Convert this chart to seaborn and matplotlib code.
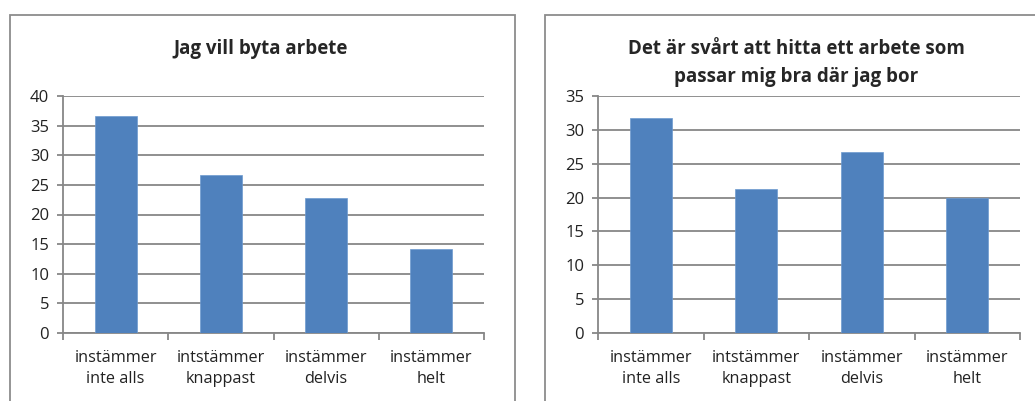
import numpy as np
import pandas as pd
import matplotlib
matplotlib.use('Agg')
import matplotlib.pyplot as plt
import seaborn as sns
from matplotlib.patches import Rectangle

# data
categories = ['instämmer\ninte alls', 'intstämmer\nknappast', 'instämmer\ndelvis', 'instämmer\nhelt']
byta_arbete = [36.6, 26.6, 22.8, 14.1]
svart_hitta = [31.8, 21.3, 26.8, 20.0]
titles = ['Jag vill byta arbete',
          'Det är svårt att hitta ett arbete som\npassar mig bra där jag bor']
ymax = [40, 35]

sns.set_style('white')
plt.rcParams['font.family'] = ['Open Sans', 'DejaVu Sans']

bar_color = '#4F81BD'
grid_color = '#878787'

fig = plt.figure(figsize=(10.35, 4.01), dpi=100)

# outer chart frames (bottom is cut off in the reference)
fig.add_artist(Rectangle((9.5 / 1035, -0.2), (515 - 9.5) / 1035, 1.2 - 14.7 / 401,
                         transform=fig.transFigure, fill=False, edgecolor='#8c8c8c', lw=1.3))
fig.add_artist(Rectangle((544.5 / 1035, -0.2), 0.6, 1.2 - 14.7 / 401,
                         transform=fig.transFigure, fill=False, edgecolor='#8c8c8c', lw=1.3))

ax_pos = [[63 / 1035, 68 / 401, 421 / 1035, 237 / 401],
          [598 / 1035, 68 / 401, 422 / 1035, 237 / 401]]
title_x = [261, 796]
title_y = [49, 63]

for i, vals in enumerate([byta_arbete, svart_hitta]):
    ax = fig.add_axes(ax_pos[i])
    df = pd.DataFrame({'kat': categories, 'varde': vals})
    sns.barplot(data=df, x='kat', y='varde', ax=ax, color=bar_color,
                width=0.4, saturation=1, edgecolor='#6d9ad0', linewidth=0.5, zorder=3)
    ax.set_xlim(-0.5, 3.5)
    ax.set_ylim(0, ymax[i])
    ax.set_yticks(np.arange(0, ymax[i] + 1, 5))
    ax.set_xlabel('')
    ax.set_ylabel('')
    ax.yaxis.grid(True, color=grid_color, lw=1.3, zorder=0)
    ax.set_axisbelow(True)
    for s in ['top', 'right']:
        ax.spines[s].set_visible(False)
    for s in ['left', 'bottom']:
        ax.spines[s].set_color(grid_color)
        ax.spines[s].set_linewidth(1.3)
    ax.set_xticks(range(4))
    ax.set_xticklabels(categories, fontsize=11.7, linespacing=1.42)
    ax.tick_params(axis='x', length=0, pad=12, colors='#222222')
    ax.set_xticks(np.arange(-0.5, 4, 1), minor=True)
    ax.tick_params(axis='x', which='minor', length=5, width=1.3, color=grid_color,
                   direction='out', bottom=True)
    ax.tick_params(axis='y', length=4, width=1.3, color=grid_color, direction='out',
                   left=True, labelsize=12, pad=6, labelcolor='#222222')
    fig.text(title_x[i] / 1035, 1 - title_y[i] / 401, titles[i], ha='center', va='center',
             fontsize=13.5, fontweight='bold', linespacing=1.57)

fig.savefig('out.png', dpi=100)
